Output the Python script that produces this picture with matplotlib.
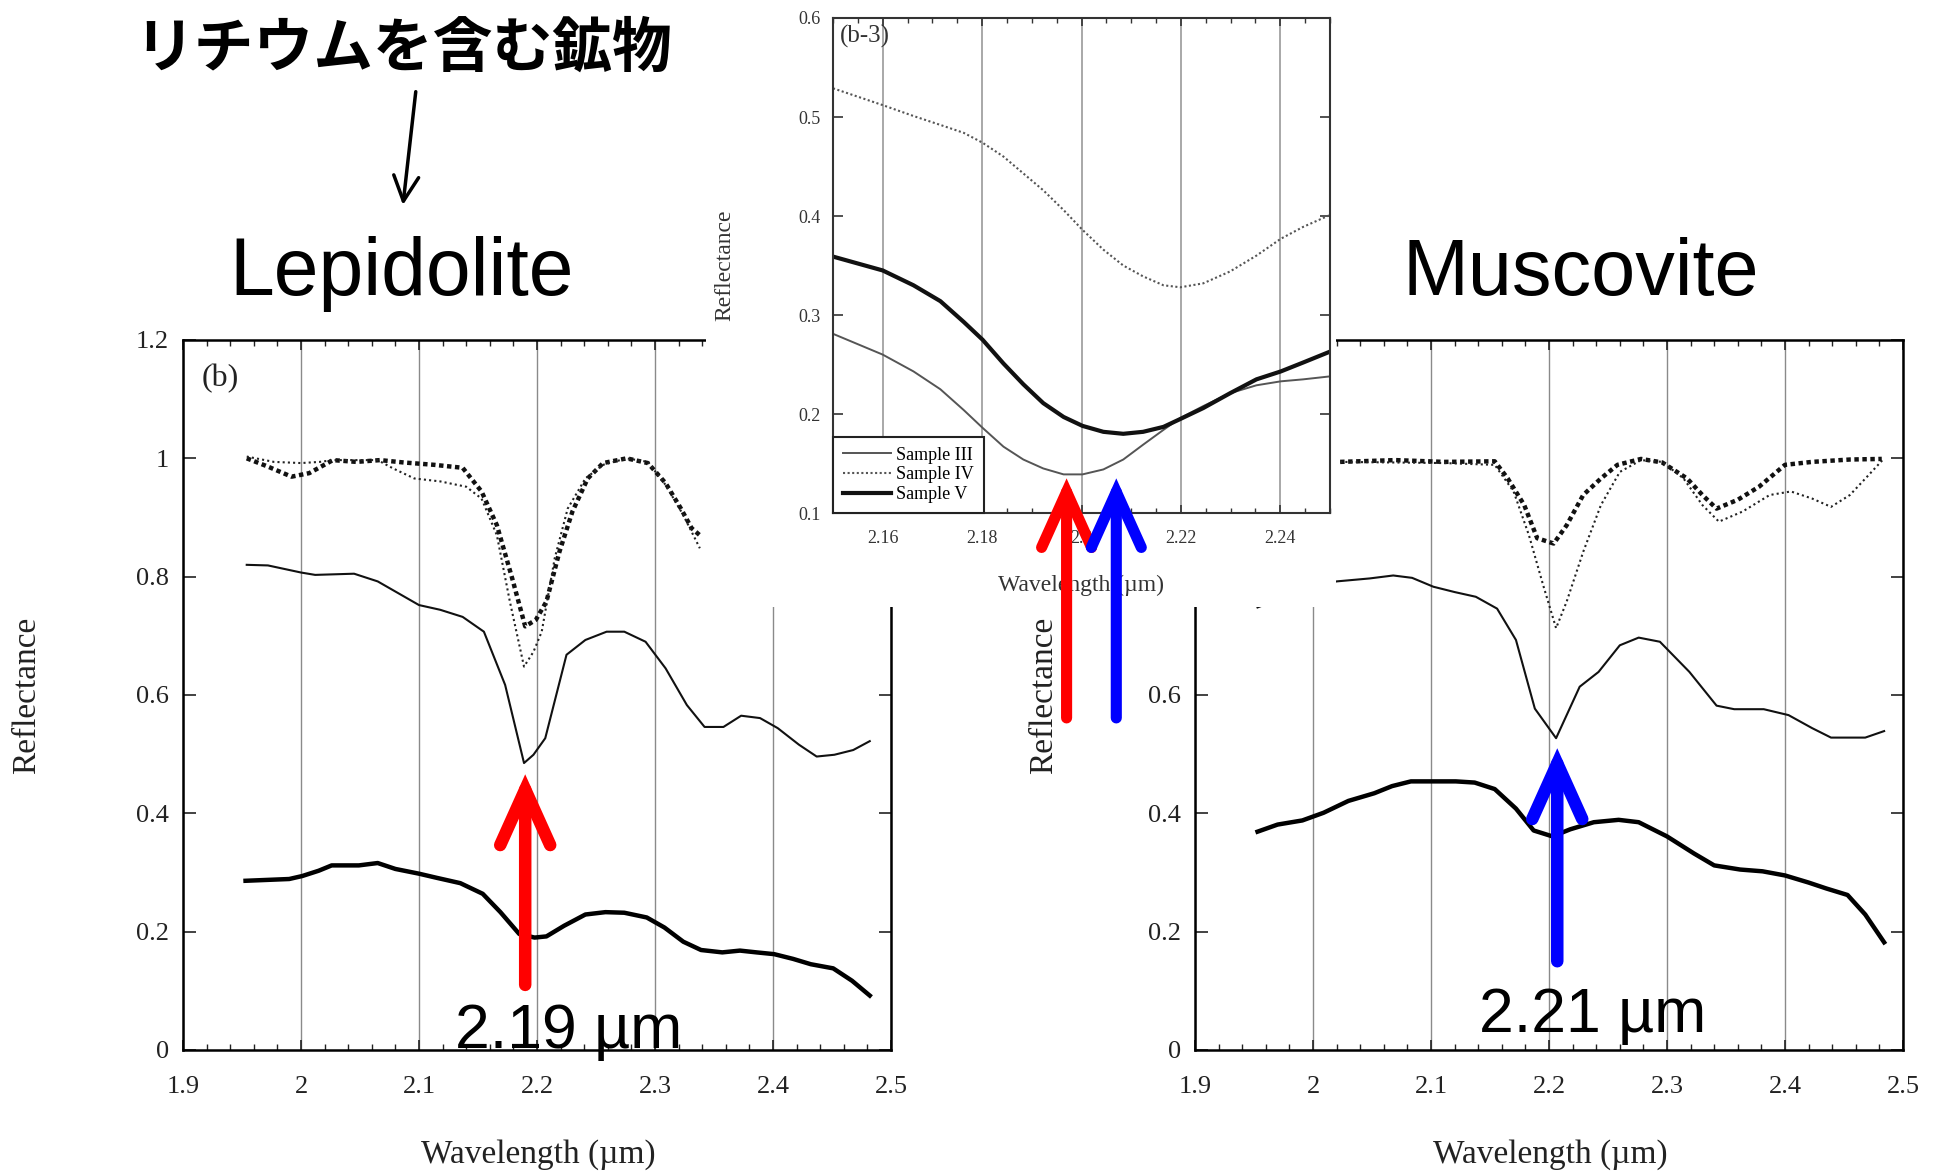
import matplotlib
matplotlib.use("Agg")
import matplotlib.pyplot as plt
from matplotlib.patches import Rectangle, FancyArrowPatch
from matplotlib.ticker import MultipleLocator, FuncFormatter

plt.rcParams['font.family'] = ['Liberation Serif', 'DejaVu Serif']

# ---- Lepidolite (left panel) ----
lep_x_solid = [1.954, 1.972, 2.0, 2.012, 2.045, 2.065, 2.1, 2.118, 2.137, 2.155, 2.173, 2.189, 2.197, 2.207,
               2.225, 2.241, 2.259, 2.274, 2.292, 2.309, 2.327, 2.342, 2.358, 2.373, 2.389, 2.404, 2.422, 2.437,
               2.452, 2.468, 2.482]
lep_y_solid = [0.820, 0.819, 0.807, 0.803, 0.805, 0.792, 0.752, 0.744, 0.732, 0.707, 0.617, 0.485, 0.499, 0.527,
               0.668, 0.693, 0.707, 0.707, 0.690, 0.645, 0.583, 0.546, 0.546, 0.565, 0.561, 0.544, 0.516, 0.496,
               0.499, 0.507, 0.522]
lep_x_thick = [1.953, 1.990, 2.001, 2.015, 2.026, 2.049, 2.065, 2.080, 2.100, 2.115, 2.135, 2.154, 2.169, 2.185,
               2.198, 2.208, 2.223, 2.241, 2.258, 2.274, 2.293, 2.308, 2.324, 2.339, 2.357, 2.372, 2.386, 2.401,
               2.417, 2.432, 2.451, 2.467, 2.482]
lep_y_thick = [0.286, 0.289, 0.294, 0.303, 0.312, 0.312, 0.316, 0.306, 0.298, 0.291, 0.282, 0.264, 0.233, 0.196,
               0.190, 0.192, 0.210, 0.229, 0.233, 0.232, 0.224, 0.207, 0.183, 0.169, 0.165, 0.168, 0.165, 0.162,
               0.154, 0.145, 0.138, 0.117, 0.092]
lep_x_dot_bold = [1.954, 1.972, 1.992, 2.007, 2.027, 2.047, 2.067, 2.087, 2.113, 2.137, 2.153, 2.166, 2.179,
                  2.190, 2.199, 2.208, 2.219, 2.230, 2.243, 2.256, 2.276, 2.294, 2.309, 2.322, 2.331, 2.338]
lep_y_dot_bold = [1.0, 0.986, 0.969, 0.975, 0.997, 0.994, 0.997, 0.993, 0.989, 0.984, 0.944, 0.887, 0.797,
                  0.716, 0.727, 0.758, 0.842, 0.910, 0.966, 0.992, 1.0, 0.992, 0.958, 0.915, 0.882, 0.870]
lep_x_dot_thin = [1.954, 1.977, 2.0, 2.016, 2.027, 2.065, 2.078, 2.096, 2.118, 2.140, 2.153, 2.166, 2.177,
                  2.189, 2.197, 2.204, 2.215, 2.226, 2.241, 2.256, 2.276, 2.294, 2.309, 2.324, 2.338]
lep_y_dot_thin = [1.003, 0.994, 0.992, 0.994, 0.997, 0.997, 0.983, 0.966, 0.961, 0.952, 0.932, 0.870, 0.758,
                  0.648, 0.673, 0.707, 0.831, 0.915, 0.966, 0.989, 1.0, 0.994, 0.955, 0.904, 0.848]

# ---- Muscovite (right panel) ----
mus_x_solid = [1.953, 1.975, 2.0, 2.020, 2.048, 2.068, 2.084, 2.102, 2.120, 2.138, 2.156, 2.172, 2.188, 2.206,
               2.226, 2.242, 2.260, 2.276, 2.294, 2.319, 2.342, 2.357, 2.382, 2.403, 2.423, 2.439, 2.468, 2.484]
mus_y_solid = [0.748, 0.765, 0.782, 0.792, 0.797, 0.802, 0.798, 0.783, 0.774, 0.766, 0.746, 0.693, 0.577, 0.527,
               0.614, 0.639, 0.684, 0.697, 0.690, 0.639, 0.582, 0.576, 0.576, 0.566, 0.544, 0.528, 0.528, 0.539]
mus_x_thick = [1.953, 1.970, 1.991, 2.009, 2.030, 2.052, 2.067, 2.083, 2.121, 2.137, 2.154, 2.172, 2.187, 2.203,
               2.218, 2.238, 2.259, 2.276, 2.300, 2.323, 2.340, 2.362, 2.381, 2.400, 2.420, 2.435, 2.453, 2.468,
               2.484]
mus_y_thick = [0.369, 0.381, 0.388, 0.401, 0.421, 0.434, 0.446, 0.454, 0.454, 0.452, 0.441, 0.408, 0.371, 0.361,
               0.373, 0.385, 0.389, 0.385, 0.361, 0.332, 0.312, 0.305, 0.302, 0.295, 0.283, 0.273, 0.262, 0.229,
               0.182]
mus_x_dot_bold = [2.023, 2.070, 2.111, 2.154, 2.165, 2.179, 2.190, 2.204, 2.215, 2.229, 2.244, 2.258, 2.278,
                  2.296, 2.317, 2.330, 2.342, 2.360, 2.378, 2.400, 2.423, 2.455, 2.482]
mus_y_dot_bold = [0.994, 0.997, 0.994, 0.995, 0.966, 0.921, 0.865, 0.856, 0.887, 0.938, 0.966, 0.989, 0.999,
                  0.993, 0.966, 0.938, 0.915, 0.930, 0.952, 0.989, 0.994, 0.998, 0.999]
mus_x_dot_thin = [2.023, 2.111, 2.154, 2.170, 2.183, 2.195, 2.206, 2.215, 2.229, 2.244, 2.260, 2.278, 2.296,
                  2.314, 2.330, 2.344, 2.364, 2.387, 2.405, 2.423, 2.439, 2.455, 2.471, 2.484]
mus_y_dot_thin = [0.994, 0.992, 0.989, 0.944, 0.870, 0.786, 0.713, 0.758, 0.842, 0.921, 0.977, 0.997, 0.994,
                  0.966, 0.921, 0.893, 0.910, 0.938, 0.944, 0.932, 0.918, 0.938, 0.972, 1.0]

# ---- inset (b-3) ----
ins_x = [2.150, 2.160, 2.1662, 2.1716, 2.1763, 2.1801, 2.1843, 2.1883, 2.1923, 2.1964, 2.2002, 2.2044, 2.2084,
         2.2124, 2.2165, 2.2199, 2.2245, 2.2299, 2.2352, 2.2401, 2.2446, 2.2500]
ins_y_III = [0.281, 0.260, 0.243, 0.225, 0.204, 0.186, 0.167, 0.154, 0.145, 0.139, 0.139, 0.144, 0.154,
             0.169, 0.184, 0.196, 0.208, 0.221, 0.229, 0.233, 0.235, 0.238]
ins_y_IV = [0.529, 0.512, 0.501, 0.492, 0.484, 0.474, 0.460, 0.443, 0.426, 0.406, 0.386, 0.366, 0.350,
            0.339, 0.330, 0.328, 0.332, 0.344, 0.360, 0.377, 0.389, 0.401]
ins_y_V = [0.359, 0.345, 0.330, 0.314, 0.293, 0.275, 0.251, 0.230, 0.211, 0.197, 0.188, 0.182, 0.180,
           0.182, 0.187, 0.195, 0.206, 0.221, 0.235, 0.243, 0.252, 0.263]
ins_labels = ["Sample III", "Sample IV", "Sample V"]

lep_peak = 2.19
mus_peak = 2.207
ins_peaks = [2.197, 2.207]

W, H = 1941, 1174
fig = plt.figure(figsize=(W / 100, H / 100), dpi=100)


def px_axes(left, top, right, bottom):
    return fig.add_axes([left / W, 1 - bottom / H, (right - left) / W, (bottom - top) / H])


fmt = FuncFormatter(lambda v, p: f"{v:g}")


def style_main(ax):
    ax.set_xlim(1.9, 2.5)
    ax.set_ylim(0, 1.2)
    ax.xaxis.set_major_locator(MultipleLocator(0.1))
    ax.xaxis.set_minor_locator(MultipleLocator(0.02))
    ax.yaxis.set_major_locator(MultipleLocator(0.2))
    ax.xaxis.set_major_formatter(fmt)
    ax.yaxis.set_major_formatter(fmt)
    ax.tick_params(which='both', direction='in', top=True, right=True, colors='#222', labelsize=19)
    ax.tick_params(axis='x', which='major', length=7, width=1.2, pad=19)
    ax.tick_params(axis='x', which='minor', length=4, width=1.0)
    ax.tick_params(axis='y', which='major', length=9, width=1.2, pad=10)
    for s in ax.spines.values():
        s.set_linewidth(1.8)
    ax.grid(axis='x', which='major', color='#8a8a8a', lw=1.0)
    ax.set_xlabel('Wavelength (µm)', fontsize=24, va='center', color='#222')
    ax.xaxis.set_label_coords(0.502, -0.148)


ax_l = px_axes(183, 340, 891, 1050)
ax_r = px_axes(1195, 340, 1903, 1050)

for ax, data in [(ax_l, (lep_x_dot_bold, lep_y_dot_bold, lep_x_dot_thin, lep_y_dot_thin,
                         lep_x_solid, lep_y_solid, lep_x_thick, lep_y_thick)),
                 (ax_r, (mus_x_dot_bold, mus_y_dot_bold, mus_x_dot_thin, mus_y_dot_thin,
                         mus_x_solid, mus_y_solid, mus_x_thick, mus_y_thick))]:
    xb, yb, xt, yt, xs, ys, xk, yk = data
    ax.plot(xb, yb, color='#111', lw=3.2, ls=(0, (1, 0.8)))
    ax.plot(xt, yt, color='#222', lw=1.5, ls=(0, (1, 1.5)))
    ax.plot(xs, ys, color='#111', lw=1.5)
    ax.plot(xk, yk, color='#000', lw=3.2)
    style_main(ax)

ax_l.set_ylabel('Reflectance', fontsize=24, va='center', color='#222')
ax_l.yaxis.set_label_coords(-0.220, 0.5)
ax_r.set_ylabel('Reflectance', fontsize=24, va='center', color='#222')
ax_r.yaxis.set_label_coords(-0.213, 0.5)
ax_l.text(0.052, 0.946, '(b)', transform=ax_l.transAxes, fontsize=23, ha='center', va='center', color='#222')

big_arrow = dict(arrowstyle='->,head_length=1.0,head_width=0.45', lw=9, mutation_scale=40,
                 shrinkA=0, shrinkB=0, capstyle='round', joinstyle='miter', clip_on=False)
ax_l.annotate('', xy=(lep_peak, 0.466), xytext=(lep_peak, 0.11),
              arrowprops=dict(big_arrow, color='#ff0000'), annotation_clip=False)
ax_l.text(2.227, 0.004, '2.19 µm', fontsize=45, family=['Liberation Sans'], ha='center', va='baseline')
ax_r.annotate('', xy=(mus_peak, 0.51), xytext=(mus_peak, 0.15),
              arrowprops=dict(big_arrow, color='#0000ff'), annotation_clip=False)
ax_r.text(2.237, 0.030, '2.21 µm', fontsize=45, family=['Liberation Sans'], ha='center', va='baseline')

# white block that the inset sits on
fig.add_artist(Rectangle((706 / W, 1 - 607 / H), (1336 - 706) / W, 607 / H, transform=fig.transFigure,
                         facecolor='white', edgecolor='none', zorder=1))

ax_in = px_axes(833, 18, 1330, 513)
ax_in.set_zorder(2)
l3, = ax_in.plot(ins_x, ins_y_III, color='#555', lw=1.4)
l4, = ax_in.plot(ins_x, ins_y_IV, color='#555', lw=1.5, ls=(0, (1, 1.2)))
l5, = ax_in.plot(ins_x, ins_y_V, color='#111', lw=3.0)
ax_in.set_xlim(2.15, 2.25)
ax_in.set_ylim(0.1, 0.6)
ax_in.xaxis.set_major_locator(MultipleLocator(0.02))
ax_in.xaxis.set_minor_locator(MultipleLocator(0.005))
ax_in.yaxis.set_major_locator(MultipleLocator(0.1))
ax_in.xaxis.set_major_formatter(fmt)
ax_in.yaxis.set_major_formatter(fmt)
ax_in.tick_params(which='both', direction='in', top=True, right=True, colors='#333', labelsize=13)
ax_in.tick_params(axis='x', which='major', length=6, width=1.2, pad=12)
ax_in.tick_params(axis='x', which='minor', length=3.5, width=1.0)
ax_in.tick_params(axis='y', which='major', length=7, width=1.2, pad=9)
for s in ax_in.spines.values():
    s.set_linewidth(1.5)
    s.set_color('#333')
ax_in.grid(axis='x', which='major', color='#999', lw=1.2)
ax_in.set_xlabel('Wavelength (µm)', fontsize=17, va='center', color='#333')
ax_in.xaxis.set_label_coords(0.498, -0.146)
ax_in.set_ylabel('Reflectance', fontsize=17, va='center', color='#333')
ax_in.yaxis.set_label_coords(-0.217, 0.5)
ax_in.text(0.065, 0.962, '(b-3)', transform=ax_in.transAxes, fontsize=18, ha='center', va='center', color='#333')
leg = ax_in.legend([l3, l4, l5], ins_labels, loc='lower left', fontsize=13, frameon=True, fancybox=False,
                   borderaxespad=0, borderpad=0.55, labelspacing=0.15, handlelength=2.65, handletextpad=0.3)
leg.get_frame().set_edgecolor('#222')
leg.get_frame().set_linewidth(1.5)
leg.get_frame().set_alpha(1)

small_arrow = dict(big_arrow, lw=8)
ax_in.annotate('', xy=(ins_peaks[0], 0.135), xytext=(ins_peaks[0], -0.107),
               arrowprops=dict(small_arrow, color='#ff0000'), annotation_clip=False)
ax_in.annotate('', xy=(ins_peaks[1], 0.135), xytext=(ins_peaks[1], -0.107),
               arrowprops=dict(small_arrow, color='#0000ff'), annotation_clip=False)

# titles
fig.text(0.208, 0.9578, 'リチウムを含む鉱物', fontsize=43, family=['Noto Sans CJK JP', 'DejaVu Sans'],
         weight='bold', ha='center', va='center')
fig.add_artist(FancyArrowPatch((0.2142, 0.9219), (0.2076, 0.8254), transform=fig.transFigure,
                               arrowstyle='->,head_length=0.9,head_width=0.45', mutation_scale=20, lw=2.5,
                               color='black', shrinkA=0, shrinkB=0))
fig.text(0.2071, 0.749, 'Lepidolite', fontsize=58, family=['Liberation Sans'], ha='center', va='baseline')
fig.text(0.8145, 0.749, 'Muscovite', fontsize=57, family=['Liberation Sans'], ha='center', va='baseline')

fig.savefig('out.png', dpi=100, facecolor='white')
